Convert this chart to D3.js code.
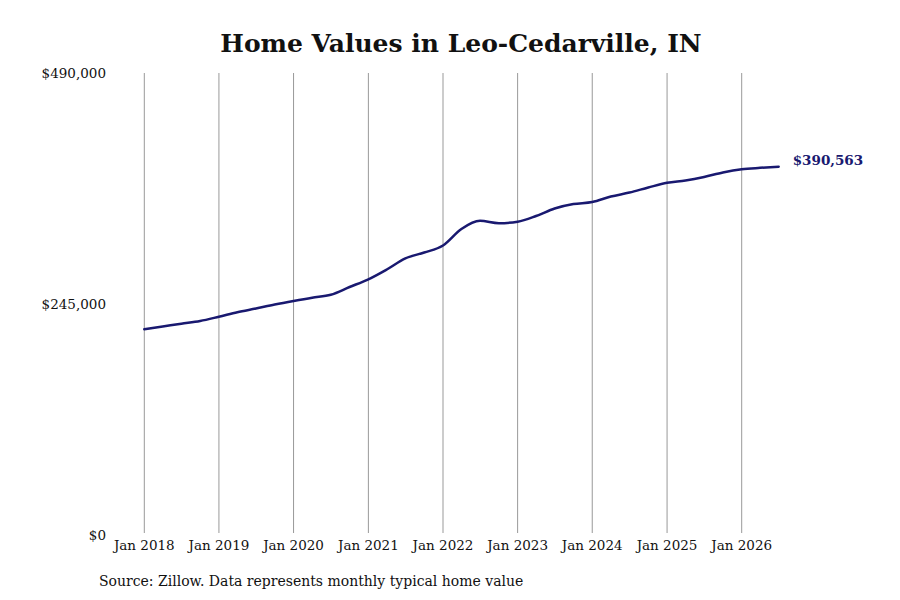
<!DOCTYPE html>
<html>
<head>
<meta charset="utf-8">
<script src="https://cdn.jsdelivr.net/npm/d3@7"></script>
<style>
  body { margin: 0; background: #fff; }
  text { font-family: "DejaVu Serif", serif; }
</style>
</head>
<body>
<script>
// quarterly readings, Jan 2018 .. Jul 2026
var dates = [
    "2018-01", "2018-04", "2018-07", "2018-10",
    "2019-01", "2019-04", "2019-07", "2019-10",
    "2020-01", "2020-04", "2020-07", "2020-10",
    "2021-01", "2021-04", "2021-07", "2021-10",
    "2022-01", "2022-04", "2022-07", "2022-10",
    "2023-01", "2023-04", "2023-07", "2023-10",
    "2024-01", "2024-04", "2024-07", "2024-10",
    "2025-01", "2025-04", "2025-07", "2025-10",
    "2026-01", "2026-04", "2026-07"];
var values = [
    218200, 221100, 224100, 227000,
    231500, 236200, 240200, 244400,
    248200, 251700, 254800, 263000,
    271200, 281600, 293300, 299600,
    307000, 324500, 333200, 330700,
    332300, 338300, 346300, 351000,
    353200, 359000, 363200, 368600,
    373600, 376000, 379700, 384500,
    387900, 389400, 390563];
var yTicks = [0, 245000, 490000];
var xTickYears = [2018, 2019, 2020, 2021, 2022, 2023, 2024, 2025, 2026];
var title = "Home Values in Leo-Cedarville, IN";
var source = "Source: Zillow. Data represents monthly typical home value";

var width = 900, height = 600;
var lineColor = "#191970";

var parse = d3.timeParse("%Y-%m");
var data = dates.map(function(d, i) { return { date: parse(d), value: values[i] }; });

var svg = d3.select("body").append("svg")
    .attr("width", width)
    .attr("height", height);

var x = d3.scaleTime()
    .domain([new Date(2018, 0, 1), new Date(2026, 0, 1)])
    .range([144.3, 741.7]);

var y = d3.scaleLinear()
    .domain([0, 490000])
    .range([535, 73]);

// vertical gridlines at each January
svg.append("g")
    .selectAll("line")
    .data(xTickYears)
    .enter().append("line")
        .attr("x1", function(d) { return x(new Date(d, 0, 1)); })
        .attr("x2", function(d) { return x(new Date(d, 0, 1)); })
        .attr("y1", y(490000))
        .attr("y2", 533)
        .attr("stroke", "#999")
        .attr("stroke-width", 1);

// x labels
svg.append("g")
    .selectAll("text")
    .data(xTickYears)
    .enter().append("text")
        .attr("x", function(d) { return x(new Date(d, 0, 1)); })
        .attr("y", 550)
        .attr("text-anchor", "middle")
        .attr("font-size", "13.5px")
        .attr("fill", "#111")
        .text(function(d) { return "Jan " + d; });

// y labels
svg.append("g")
    .selectAll("text")
    .data(yTicks)
    .enter().append("text")
        .attr("x", 106)
        .attr("y", function(d) { return y(d); })
        .attr("dy", "0.35em")
        .attr("text-anchor", "end")
        .attr("font-size", "13.5px")
        .attr("fill", "#111")
        .text(function(d) { return "$" + d3.format(",")(d); });

var line = d3.line()
    .x(function(d) { return x(d.date); })
    .y(function(d) { return y(d.value); })
    .curve(d3.curveMonotoneX);

svg.append("path")
    .datum(data)
    .attr("d", line)
    .attr("fill", "none")
    .attr("stroke", lineColor)
    .attr("stroke-width", 2.5)
    .attr("stroke-linecap", "round");

var last = data[data.length - 1];
svg.append("text")
    .attr("x", x(last.date) + 14)
    .attr("y", y(last.value) - 6)
    .attr("dy", "0.35em")
    .attr("font-size", "13.5px")
    .attr("font-weight", "bold")
    .attr("fill", lineColor)
    .text("$" + d3.format(",")(last.value));

svg.append("text")
    .attr("x", 461)
    .attr("y", 52)
    .attr("text-anchor", "middle")
    .attr("font-size", "25px")
    .attr("font-weight", "bold")
    .attr("fill", "#111")
    .text(title);

svg.append("text")
    .attr("x", 99)
    .attr("y", 586)
    .attr("font-size", "14px")
    .attr("fill", "#111")
    .text(source);
</script>
</body>
</html>
